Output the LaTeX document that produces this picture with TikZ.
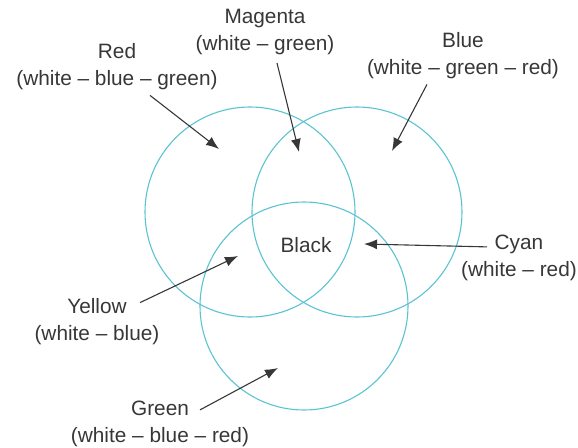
\documentclass[tikz,border=0pt]{standalone}
\usepackage{fontspec}
\setmainfont{Liberation Sans}
\usetikzlibrary{arrows.meta,positioning}
\definecolor{ring}{RGB}{90,195,210}
\definecolor{ink}{RGB}{55,55,55}

\begin{document}
\begin{tikzpicture}[
    x=1pt, y=-1pt,
    circ/.style={draw=ring, line width=1.1pt},
    lbl/.style={align=center, text=ink, font=\fontsize{20.8}{27}\selectfont, inner sep=2pt},
    edge/.style={-{Latex[length=13pt,width=10pt]}, draw=ink, line width=1.1pt}
]
\useasboundingbox (0,0) rectangle (578,447);

% the three circles
\draw[circ] (250,212) circle (105pt);
\draw[circ] (357,212) circle (105pt);
\draw[circ] (304,306) circle (104pt);

% labels
\node[lbl] (red) at (117,67) {Red\\(white -- blue -- green)};
\node[lbl] (magenta) at (265,32) {Magenta\\(white -- green)};
\node[lbl] (blue) at (463,56) {Blue\\(white -- green -- red)};
\node[lbl] (black) at (306,245) {Black};
\node[lbl] (cyan) at (519,258) {Cyan\\(white -- red)};
\node[lbl] (yellow) at (97,322) {Yellow\\(white -- blue)};
\node[lbl] (green) at (160,424) {Green\\(white -- blue -- red)};

% arrow tips
\coordinate (redtip) at (219,149);
\coordinate (magentatip) at (299,152);
\coordinate (bluetip) at (392,151);
\coordinate (cyantip) at (364,244);
\coordinate (yellowtip) at (238,256);
\coordinate (greentip) at (278,368);

\draw[edge] ([xshift=33pt,yshift=-3pt]red.south) -- (redtip);
\draw[edge] ([xshift=12pt,yshift=-6pt]magenta.south) -- (magentatip);
\draw[edge] ([xshift=-36pt,yshift=-3pt]blue.south) -- (bluetip);
\draw[edge] ([xshift=-32pt,yshift=-14pt]cyan.north) -- (cyantip);
\draw[edge] ([xshift=43pt,yshift=-6pt]yellow.north) -- (yellowtip);
\draw[edge] ([xshift=40pt,yshift=-11pt]green.north) -- (greentip);
\end{tikzpicture}
\end{document}
